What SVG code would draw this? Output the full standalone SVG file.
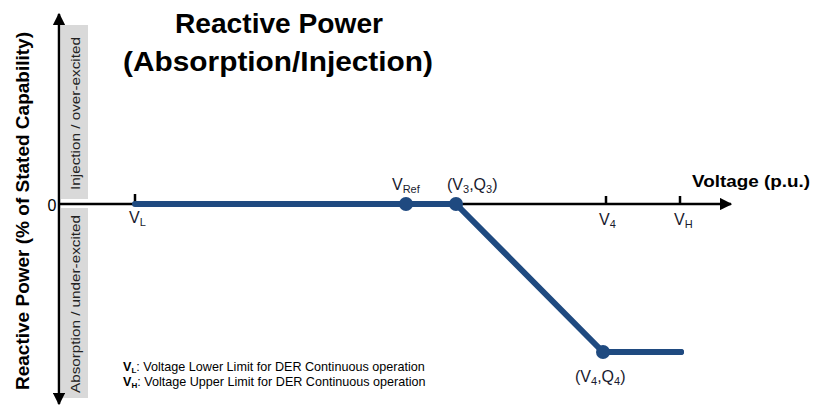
<svg xmlns="http://www.w3.org/2000/svg" width="819" height="407" viewBox="0 0 819 407">
<defs>
<marker id="ah" viewBox="0 0 10 10" refX="9" refY="5" markerWidth="5" markerHeight="5" markerUnits="strokeWidth" orient="auto">
<path d="M0,0 L10,5 L0,10 z" fill="#000"/>
</marker>
<style>
.t{font-family:"Liberation Sans",Arial,sans-serif;fill:#000}
.b{font-weight:bold}
.lab{font-family:"Liberation Sans",Arial,sans-serif;font-size:16px;fill:#1a1a2e}
.sub{font-size:11px}
.axis{stroke:#000;stroke-width:2.5;fill:none}
.curve{stroke:#1f4a80;stroke-width:6;fill:none;stroke-linecap:round;stroke-linejoin:round}
.dot{fill:#1f4a80}
.band{fill:#d9d9d9}
.bandt{font-family:"Liberation Sans",Arial,sans-serif;font-size:13px;fill:#222}
</style>
</defs>
<rect width="819" height="407" fill="#fff"/>
<g id="title">
<text class="t b" x="279" y="33" font-size="28" text-anchor="middle" textLength="208" lengthAdjust="spacingAndGlyphs">Reactive Power</text>
<text class="t b" x="278" y="71" font-size="28" text-anchor="middle" textLength="310" lengthAdjust="spacingAndGlyphs">(Absorption/Injection)</text>
</g>
<g id="bands">
<rect class="band" x="61" y="25" width="27" height="174"/>
<rect class="band" x="61" y="208" width="27" height="190"/>
<text class="bandt" transform="translate(80,113.5) rotate(-90)" text-anchor="middle" textLength="153" lengthAdjust="spacingAndGlyphs">Injection / over-excited</text>
<text class="bandt" transform="translate(80,304) rotate(-90)" text-anchor="middle" textLength="178" lengthAdjust="spacingAndGlyphs">Absorption / under-excited</text>
</g>
<g id="ylabel">
<text class="t b" font-size="18" transform="translate(29,211) rotate(-90)" text-anchor="middle" textLength="358" lengthAdjust="spacingAndGlyphs">Reactive Power (% of Stated Capability)</text>
</g>
<g id="connectors">
<line class="axis" x1="59" y1="204" x2="59" y2="14" marker-end="url(#ah)"/>
<line class="axis" x1="59" y1="204" x2="59" y2="404" marker-end="url(#ah)"/>
<line class="axis" x1="59" y1="204" x2="731" y2="204" marker-end="url(#ah)"/>
<line class="axis" x1="135" y1="194" x2="135" y2="204"/>
<line class="axis" x1="606" y1="196" x2="606" y2="204"/>
<line class="axis" x1="680" y1="196" x2="680" y2="204"/>
<polyline class="curve" points="135,204 456,204 603,352 681,352" stroke-linecap="butt"/>
<path d="M676,349 L681,349 A3,3 0 0 1 681,355 L676,355 z" fill="#1f4a80"/>
</g>
<g id="zero"><text class="t" x="52" y="211" font-size="16" fill="#222" text-anchor="middle">0</text></g>
<g id="xlabel"><text class="t b" x="692" y="187" font-size="16" textLength="118" lengthAdjust="spacingAndGlyphs">Voltage (p.u.)</text></g>
<g id="VL"><text class="lab" x="129" y="223" fill="#1f3864">V<tspan class="sub" dy="3">L</tspan></text></g>
<g id="VRef">
<circle class="dot" cx="406" cy="204" r="7"/>
<text class="lab" x="392" y="190">V<tspan class="sub" dy="3">Ref</tspan></text>
</g>
<g id="V3Q3">
<circle class="dot" cx="456" cy="204" r="7"/>
<text class="lab" x="447" y="190">(V<tspan class="sub" dy="3">3</tspan><tspan dy="-3">,Q</tspan><tspan class="sub" dy="3">3</tspan><tspan dy="-3">)</tspan></text>
</g>
<g id="V4"><text class="lab" x="599" y="225">V<tspan class="sub" dy="3">4</tspan></text></g>
<g id="VH"><text class="lab" x="674" y="225">V<tspan class="sub" dy="3">H</tspan></text></g>
<g id="V4Q4">
<circle class="dot" cx="603" cy="352" r="7"/>
<text class="lab" x="575" y="382" font-size="17">(V<tspan class="sub" dy="3">4</tspan><tspan dy="-3">,Q</tspan><tspan class="sub" dy="3">4</tspan><tspan dy="-3">)</tspan></text>
</g>
<g id="legend">
<text class="t" x="123" y="371" font-size="12.6" fill="#222"><tspan font-weight="bold">V<tspan font-size="8" dy="2">L</tspan></tspan><tspan dy="-2">: Voltage Lower Limit for DER Continuous operation</tspan></text>
<text class="t" x="123" y="386" font-size="12.6" fill="#222"><tspan font-weight="bold">V<tspan font-size="8" dy="2">H</tspan></tspan><tspan dy="-2">: Voltage Upper Limit for DER Continuous operation</tspan></text>
</g>
</svg>
